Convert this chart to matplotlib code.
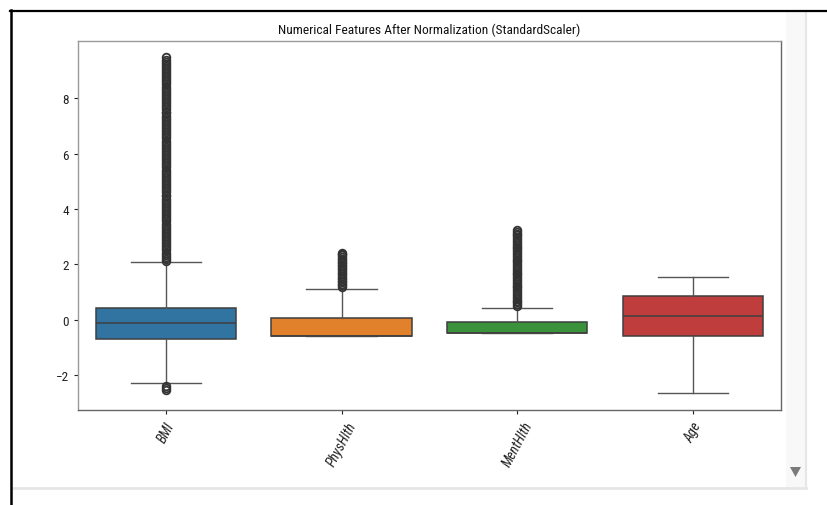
import matplotlib
matplotlib.use("Agg")
import matplotlib.pyplot as plt
from matplotlib import font_manager
from matplotlib.lines import Line2D
from matplotlib.patches import Rectangle, Polygon

# ---- data ----
features = ["BMI", "PhysHlth", "MentHlth", "Age"]
q1 = [-0.72, -0.58, -0.49, -0.58]
median = [-0.14, -0.58, -0.49, 0.13]
q3 = [0.40, 0.07, -0.10, 0.84]
whisker_low = [-2.30, -0.58, -0.49, -2.67]
whisker_high = [2.09, 1.12, 0.42, 1.54]
bmi_fliers = [2.12, 2.20, 2.27, 2.35, 2.42, 2.50, 2.57, 2.65, 2.72, 2.80,
              2.87, 2.95, 3.02, 3.10, 3.17, 3.25, 3.32, 3.40, 3.47, 3.55,
              3.62, 3.70, 3.77, 3.85, 3.92, 4.00, 4.07, 4.15, 4.22, 4.30,
              4.37, 4.45, 4.52, 4.60, 4.67, 4.75, 4.82, 4.90, 4.97, 5.05,
              5.12, 5.20, 5.27, 5.35, 5.42, 5.50, 5.57, 5.65, 5.72, 5.80,
              5.87, 5.95, 6.02, 6.10, 6.17, 6.25, 6.32, 6.40, 6.47, 6.55,
              6.62, 6.70, 6.77, 6.85, 6.92, 7.00, 7.07, 7.15, 7.22, 7.30,
              7.37, 7.45, 7.52, 7.60, 7.67, 7.75, 7.82, 7.90, 7.97, 8.05,
              8.12, 8.20, 8.27, 8.35, 8.42, 8.50, 8.57, 8.65, 8.72, 8.80,
              8.87, 8.95, 9.02, 9.10, 9.17, 9.25, 9.32, 9.40, 9.48,
              -2.40, -2.47, -2.55]
physhlth_fliers = [1.18, 1.24, 1.29, 1.35, 1.41, 1.46, 1.52, 1.58, 1.64,
                   1.69, 1.75, 1.81, 1.86, 1.92, 1.98, 2.03, 2.09, 2.15,
                   2.20, 2.26, 2.32, 2.37, 2.42]
menthlth_fliers = [0.48, 0.55, 0.62, 0.68, 0.75, 0.82, 0.89, 0.95, 1.02,
                   1.09, 1.16, 1.22, 1.29, 1.36, 1.43, 1.49, 1.56, 1.63,
                   1.70, 1.76, 1.83, 1.90, 1.97, 2.03, 2.10, 2.17, 2.24,
                   2.30, 2.37, 2.44, 2.51, 2.57, 2.64, 2.71, 2.78, 2.84,
                   2.91, 2.98, 3.05, 3.11, 3.18, 3.25]
age_fliers = []
fliers = [bmi_fliers, physhlth_fliers, menthlth_fliers, age_fliers]
box_colors = ["#3274a1", "#e1812c", "#3a923a", "#c03d3e"]
title = "Numerical Features After Normalization (StandardScaler)"

# pick a narrow font if one is installed
names = {f.name for f in font_manager.fontManager.ttflist}
fam = "DejaVu Sans"
for cand in ["Liberation Sans Narrow", "DejaVu Sans Condensed",
             "Roboto Condensed", "Open Sans Condensed", "Noto Sans Condensed"]:
    if cand in names:
        fam = cand
        break
plt.rcParams["font.family"] = [fam, "DejaVu Sans"]

fig = plt.figure(figsize=(8.27, 5.06), dpi=100)
W, H = 827, 506
ax = fig.add_axes([78 / W, 1 - 411 / H, (780.7 - 78) / W, (411 - 42) / H])

stats = []
for i, name in enumerate(features):
    stats.append(dict(label=name, med=median[i], q1=q1[i], q3=q3[i],
                      whislo=whisker_low[i], whishi=whisker_high[i],
                      fliers=fliers[i]))

lc = "#3f3f3f"
res = ax.bxp(stats, positions=range(len(features)), widths=0.8,
             capwidths=0.4, patch_artist=True,
             boxprops=dict(edgecolor=lc, linewidth=1.1),
             whiskerprops=dict(color="#555555", linewidth=1.0),
             capprops=dict(color="#555555", linewidth=1.0),
             medianprops=dict(color=lc, linewidth=1.1),
             flierprops=dict(marker="o", markersize=5.5, markerfacecolor="none",
                             markeredgecolor="#333333", markeredgewidth=1.3))
for patch, c in zip(res["boxes"], box_colors):
    patch.set_facecolor(c)

ax.set_xlim(-0.5, 3.5)
ax.set_ylim(-3.27, 10.07)
ax.set_yticks([-2, 0, 2, 4, 6, 8])
ax.set_xticks(range(len(features)))
ax.set_xticklabels(features, rotation=62, fontsize=10, style="italic")
for lab in ax.get_yticklabels():
    lab.set_fontsize(9.5)
ax.tick_params(length=3, width=0.8, colors="#222222", labelcolor="#222222")
for s in ax.spines.values():
    s.set_color("#666666")
    s.set_linewidth(1.0)
ax.spines["top"].set_color("#999999")
ax.spines["left"].set_color("#999999")
ax.set_title(title, fontsize=9.6, color="#111111", pad=6)

# ---- screenshot frame decorations ----
def px_line(x0, y0, x1, y1, **kw):
    fig.add_artist(Line2D([x0 / W, x1 / W], [1 - y0 / H, 1 - y1 / H],
                          transform=fig.transFigure, **kw))

fig.add_artist(Rectangle((786 / W, 1 - 488 / H), 19 / W, (488 - 12) / H,
                         transform=fig.transFigure, facecolor="#f8f8f8",
                         edgecolor="none", zorder=0))
px_line(806, 12, 806, 488, color="#e6e6e6", linewidth=1.5)
px_line(12, 488.5, 806, 488.5, color="#e6e6e6", linewidth=2.0)
px_line(10, 11.5, 827, 11.5, color="black", linewidth=1.6)
px_line(11, 11, 11, 506, color="black", linewidth=1.8)
fig.add_artist(Polygon([(790 / W, 1 - 468 / H), (801 / W, 1 - 468 / H),
                        (795.5 / W, 1 - 478 / H)], closed=True,
                       transform=fig.transFigure, facecolor="#7a7a7a",
                       edgecolor="none"))

fig.savefig("out.png", dpi=100)
